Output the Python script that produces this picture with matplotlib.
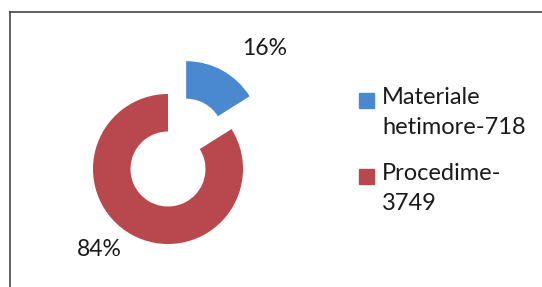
"""Exploded donut chart: Materiale hetimore vs Procedime."""

import matplotlib

matplotlib.use("Agg")
import matplotlib.pyplot as plt
from matplotlib.patches import Rectangle
from matplotlib.lines import Line2D

plt.rcParams["font.family"] = ["Lato", "DejaVu Sans"]

labels = ["Materiale\nhetimore-718", "Procedime-\n3749"]
values = [718, 3749]
colors = ["#4a88d0", "#b8484d"]
explode = [0.5, 0.0]

W, H = 542, 287
fig = plt.figure(figsize=(W / 100, H / 100), dpi=100)

# donut centred at (168, 169) px, radius 75 px
cx, cy, half = 168, 169, 120
ax = fig.add_axes([(cx - half) / W, (H - cy - half) / H, 2 * half / W, 2 * half / H])
wedges, _, autotexts = ax.pie(
    values,
    colors=colors,
    explode=explode,
    startangle=90,
    counterclock=False,
    autopct=lambda p: f"{p:.0f}%",
    wedgeprops=dict(width=0.5, edgecolor="none"),
    textprops=dict(fontsize=16.5, color="#1a1a1a"),
)
autotexts[0].set_position((1.29, 1.61))
autotexts[1].set_position((-0.91, -1.08))
for t in autotexts:
    t.set_ha("center")
    t.set_va("center")
ax.set_xlim(-1.6, 1.6)
ax.set_ylim(-1.6, 1.6)
ax.set_aspect("equal")
ax.axis("off")

# legend drawn by hand so the square sits on the first text line
for i, (lab, col) in enumerate(zip(labels, colors)):
    top = 93 + i * 76
    fig.patches.append(
        Rectangle((359 / W, 1 - (top + 15) / H), 15 / W, 15 / H,
                  transform=fig.transFigure, color=col)
    )
    fig.text(382 / W, 1 - (top - 6) / H, lab, fontsize=17, va="top",
             ha="left", linespacing=1.55, color="#1a1a1a")

# scanned frame: only left and top edges visible
fig.add_artist(Line2D([10 / W, 10 / W], [0, 1 - 12 / H], color="#444444", lw=1.2))
fig.add_artist(Line2D([10 / W, 1], [1 - 12 / H, 1 - 12 / H], color="#444444", lw=1.2))

fig.savefig("out.png", dpi=100)
